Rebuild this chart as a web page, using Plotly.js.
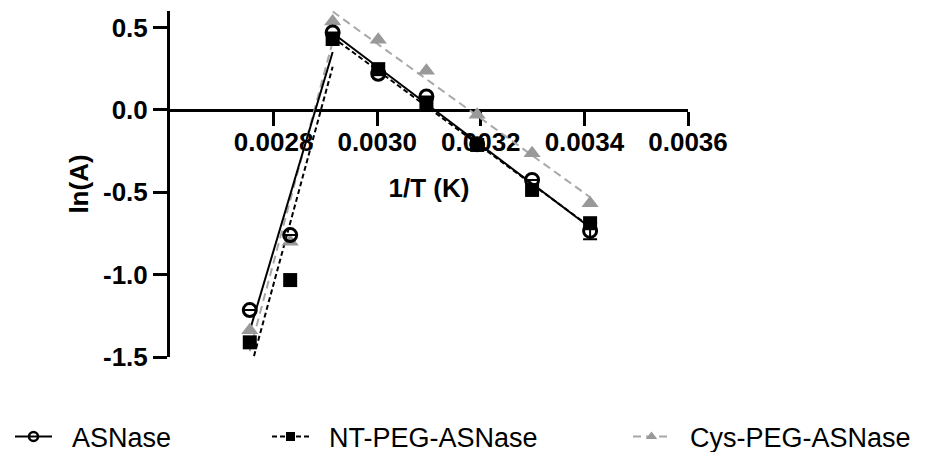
<!DOCTYPE html>
<html>
<head>
<meta charset="utf-8">
<script src="https://cdn.plot.ly/plotly-3.0.1.min.js"></script>
<style>html,body{margin:0;padding:0;background:#fff;}#chart{width:929px;height:452px;}</style>
</head>
<body>
<div id="chart"></div>
<script>
// 1/T values (K^-1)
const xInvT = [0.002754, 0.002832, 0.002914, 0.003002, 0.003095, 0.003193, 0.003299, 0.003411];
// ln(A) values per series
const asnase = [-1.215, -0.76, 0.47, 0.219, 0.081, -0.208, -0.425, -0.735];
const asnaseErr = [0, 0, 0, 0, 0, 0, 0, 0.05];
const ntPeg = [-1.411, -1.033, 0.43, 0.247, 0.041, -0.213, -0.486, -0.688];
const cysPeg = [-1.337, -0.80, 0.536, 0.425, 0.237, -0.03, -0.263, -0.567];
const seriesNames = ['ASNase', 'NT-PEG-ASNase', 'Cys-PEG-ASNase'];
const xTicks = [0.0028, 0.0030, 0.0032, 0.0034, 0.0036];
const xTickText = ['0.0028', '0.0030', '0.0032', '0.0034', '0.0036'];
const yTicks = [-1.5, -1.0, -0.5, 0.0, 0.5];
const yTickText = ['-1.5', '-1.0', '-0.5', '0.0', '0.5'];

// linear regression over a subset of points, returning the segment between first and last x
function fitSegment(xs, ys, i0, i1) {
  const X = xs.slice(i0, i1 + 1), Y = ys.slice(i0, i1 + 1);
  const n = X.length;
  const mx = X.reduce((a, b) => a + b, 0) / n, my = Y.reduce((a, b) => a + b, 0) / n;
  let sxy = 0, sxx = 0;
  for (let i = 0; i < n; i++) { sxy += (X[i] - mx) * (Y[i] - my); sxx += (X[i] - mx) ** 2; }
  const b = sxy / sxx, a = my - b * mx;
  return { x: [X[0], X[n - 1]], y: [a + b * X[0], a + b * X[n - 1]] };
}

const styles = [
  { data: asnase, lineColor: '#000000', dash: 'solid', lw: 2,
    marker: { symbol: 'circle-open', size: 13, color: '#000000', line: { width: 3, color: '#000000' } },
    legMarker: { symbol: 'circle-open', size: 9, color: '#000000', line: { width: 2.5, color: '#000000' } } },
  { data: ntPeg, lineColor: '#000000', dash: '5px,3px', lw: 2,
    marker: { symbol: 'square', size: 14, color: '#000000', line: { width: 0 } },
    legMarker: { symbol: 'square', size: 9, color: '#000000', line: { width: 0 } } },
  { data: cysPeg, lineColor: '#a8a8a8', dash: '8px,5px', lw: 2,
    marker: { symbol: 'triangle-up', size: 15, color: '#999999', line: { width: 0 } },
    legMarker: { symbol: 'triangle-up', size: 10, color: '#999999', line: { width: 0 } } }
];

const traces = [];
// fit lines (drawn first, beneath markers) - Cys, NT, ASNase order
[2, 1, 0].forEach(k => {
  const s = styles[k];
  [[0, 2], [2, 7]].forEach(seg => {
    const f = fitSegment(xInvT, s.data, seg[0], seg[1]);
    traces.push({ x: f.x, y: f.y, mode: 'lines', type: 'scatter', showlegend: false, hoverinfo: 'skip',
      line: { color: s.lineColor, width: s.lw, dash: s.dash } });
  });
});
// markers
[2, 1, 0].forEach(k => {
  const s = styles[k];
  const t = { x: xInvT, y: s.data, mode: 'markers', type: 'scatter', showlegend: false, marker: s.marker, cliponaxis: false };
  if (k === 0) t.error_y = { type: 'data', array: asnaseErr, visible: true, color: '#000000', thickness: 2, width: 7 };
  traces.push(t);
});
// legend entries (leading no-break spaces give the gap between symbol and label)
const legIds = ['legend', 'legend2', 'legend3'];
[0, 1, 2].forEach(k => {
  const s = styles[k];
  traces.push({ x: [null], y: [null], mode: 'lines+markers', type: 'scatter', name: '\u00A0\u00A0' + seriesNames[k],
    legend: legIds[k], showlegend: true,
    line: { color: s.lineColor, width: s.lw, dash: s.dash }, marker: s.legMarker });
});

const W = 929, H = 452, L = 170, R = 241, T = 11, B = 95;
const yRange = [-1.5, 0.6];

const tickFont = { family: 'Liberation Sans, Arial, sans-serif', size: 26, color: '#000000', weight: 'bold' };
const titleFont = { family: 'Liberation Sans, Arial, sans-serif', size: 26, color: '#000000', weight: 'bold' };
const legFont = { family: 'Liberation Sans, Arial, sans-serif', size: 27, color: '#000000' };
function legendAt(pxX) {
  return { xref: 'container', yref: 'container', x: pxX / W, xanchor: 'left', y: (H - 437) / H, yanchor: 'middle',
    orientation: 'h', font: legFont, bgcolor: 'rgba(0,0,0,0)', borderwidth: 0, itemwidth: 37 };
}

const layout = {
  width: W, height: H, margin: { l: L, r: R, t: T, b: B, pad: 0, autoexpand: false },
  paper_bgcolor: '#ffffff', plot_bgcolor: '#ffffff',
  showlegend: true,
  xaxis: {
    range: [0.0026, 0.0036], tickvals: xTicks, ticktext: xTickText,
    anchor: 'free', position: (0 - yRange[0]) / (yRange[1] - yRange[0]),
    showline: true, linecolor: '#000000', linewidth: 3, ticks: 'outside', ticklen: 14, tickwidth: 3, tickcolor: '#000000',
    ticklabelstandoff: -6,
    showgrid: false, zeroline: false, tickfont: tickFont, layer: 'below traces',
    title: { text: '1/T (K)', font: titleFont, standoff: 22 }
  },
  yaxis: {
    range: yRange, tickvals: yTicks, ticktext: yTickText,
    showline: true, linecolor: '#000000', linewidth: 3, ticks: 'outside', ticklen: 14, tickwidth: 3, tickcolor: '#000000',
    showgrid: false, zeroline: false, tickfont: tickFont, layer: 'below traces',
    title: { text: 'ln(A)', font: titleFont, standoff: 7 }
  },
  legend: legendAt(10),
  legend2: legendAt(267),
  legend3: legendAt(628)
};

Plotly.newPlot('chart', traces, layout, { displayModeBar: false, staticPlot: true });
</script>
</body>
</html>
